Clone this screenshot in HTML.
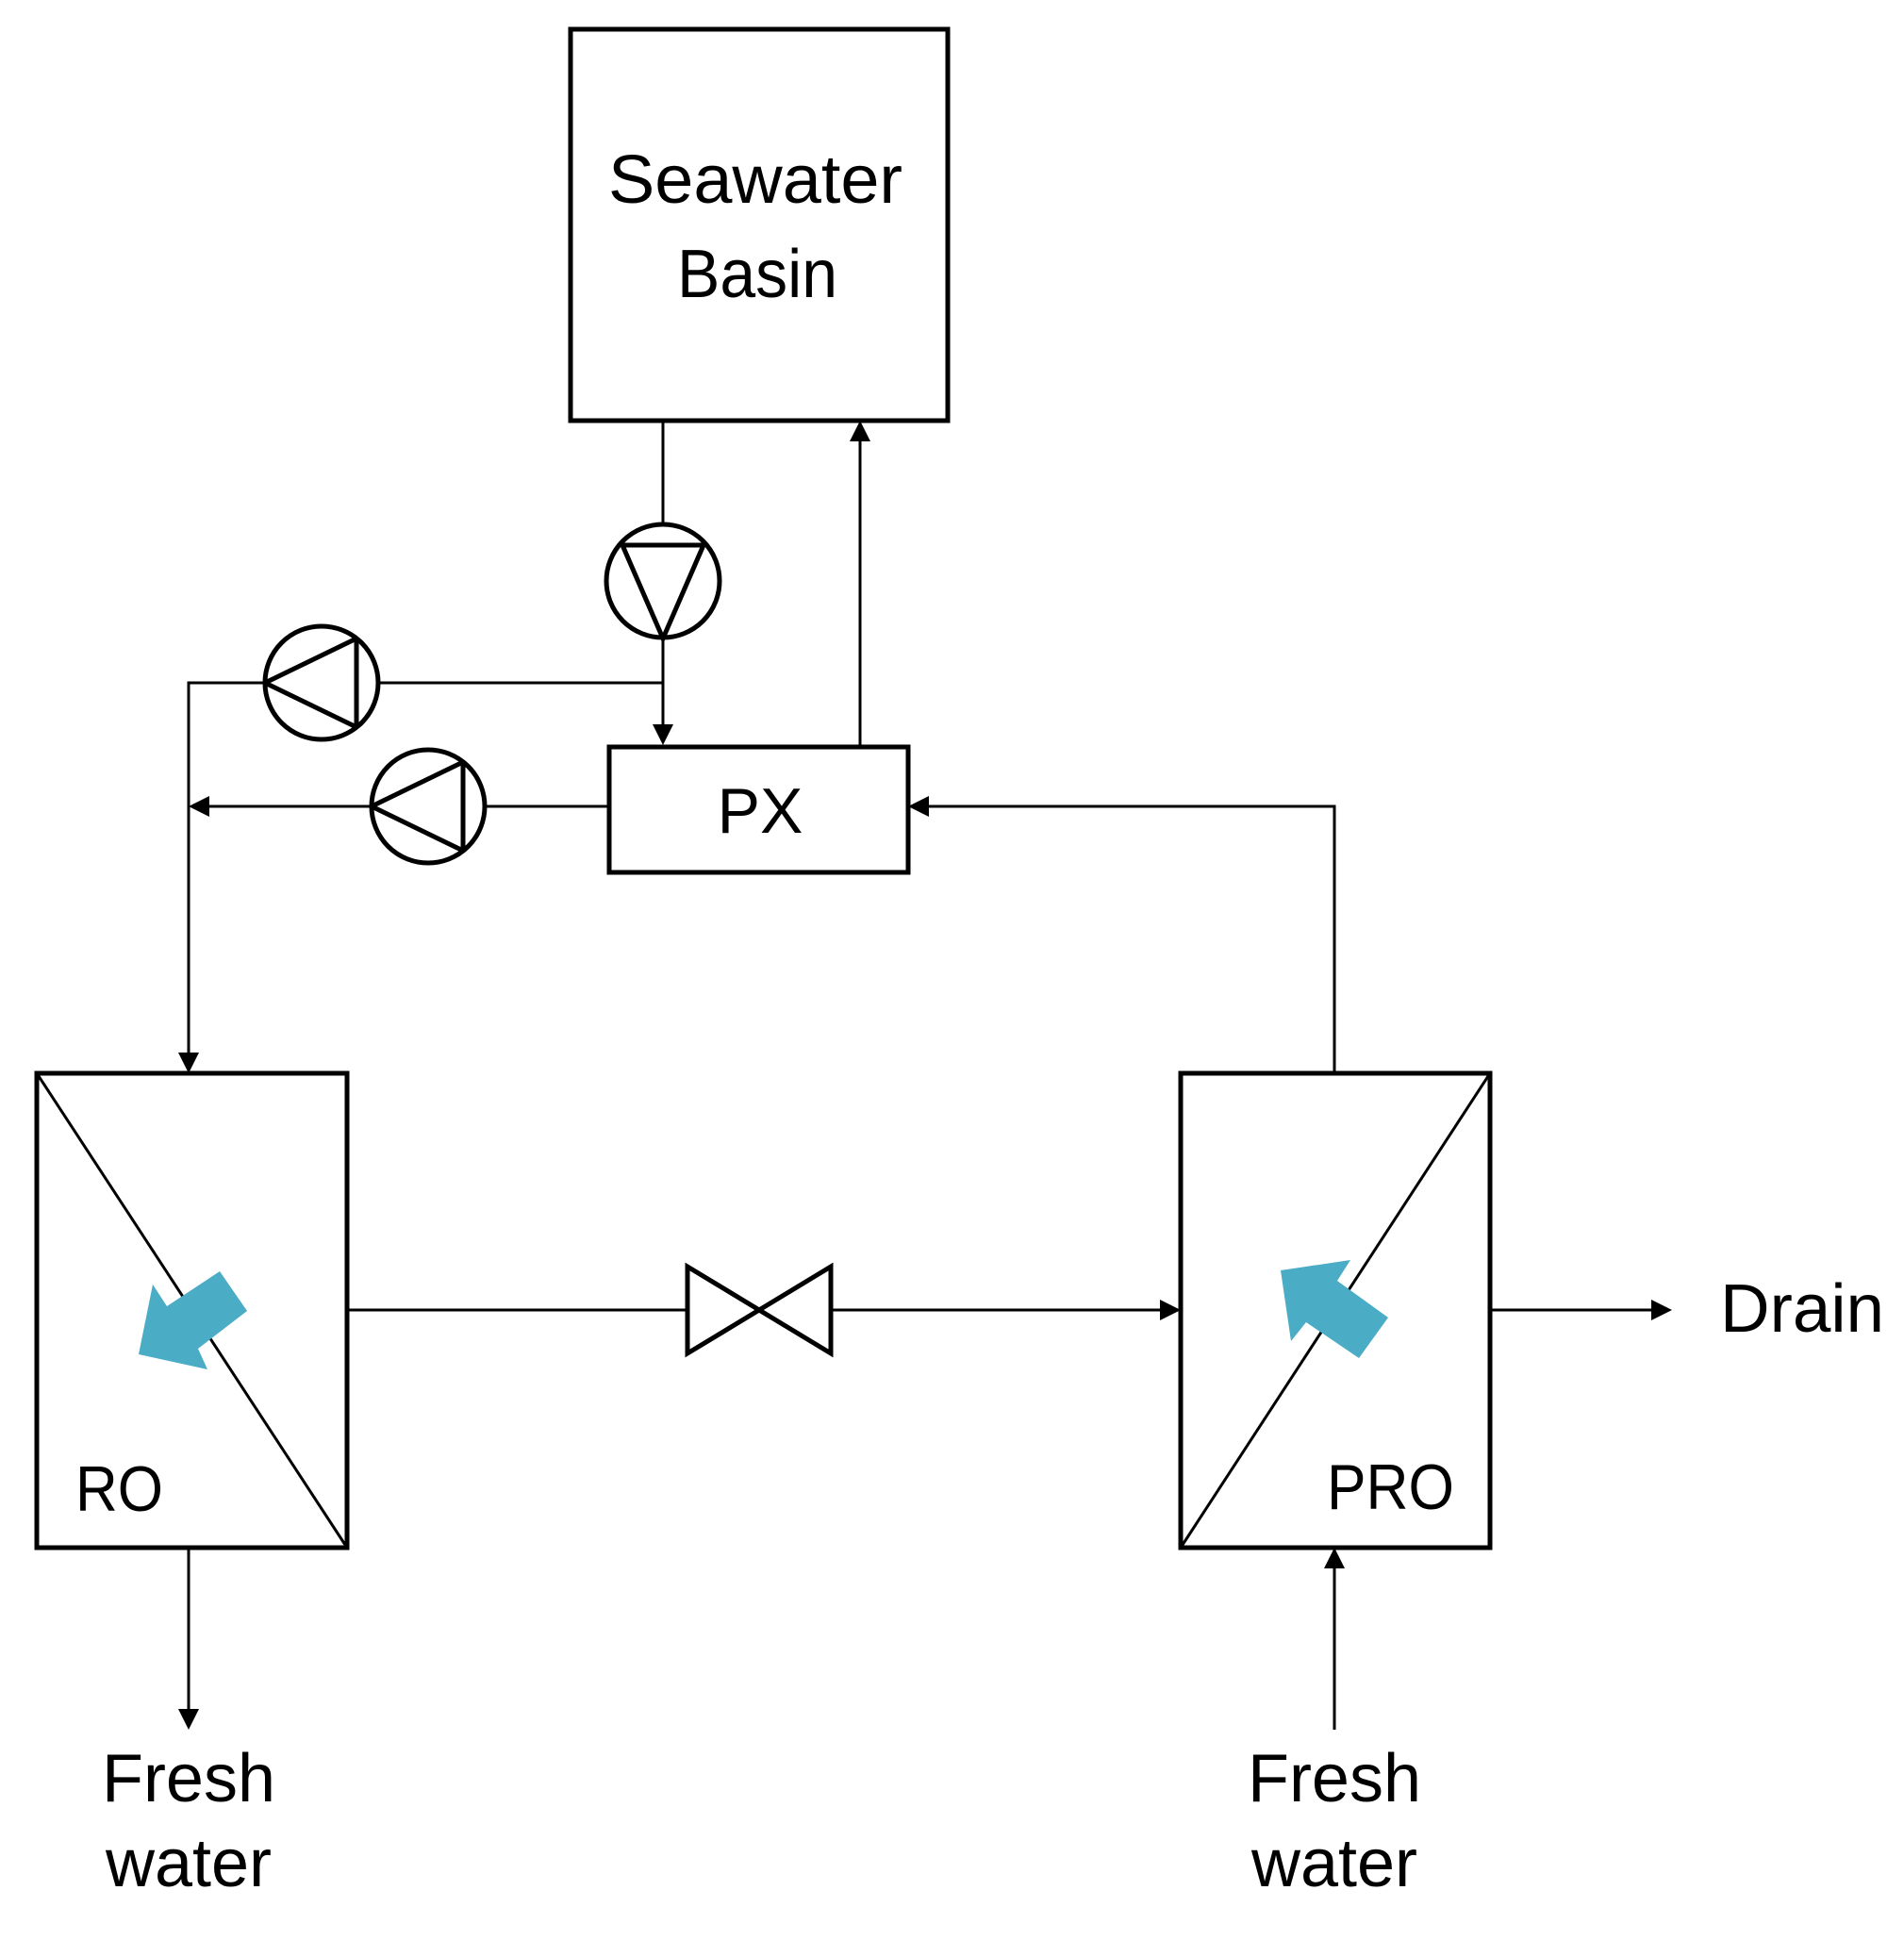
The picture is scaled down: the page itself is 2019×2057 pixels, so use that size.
<!DOCTYPE html>
<html><head><meta charset="utf-8"><style>
html,body{margin:0;padding:0;background:#fff;}
svg{display:block;}
text{font-family:"Liberation Sans",sans-serif;fill:#000;}
</style></head><body>
<svg width="2019" height="2057" viewBox="0 0 2019 2057" xmlns="http://www.w3.org/2000/svg">
<defs>
<marker id="ah" markerWidth="10" markerHeight="10" refX="9" refY="5" orient="auto" markerUnits="userSpaceOnUse" viewBox="0 0 10 10">
</marker>
</defs>
<g fill="none" stroke="#000">
<!-- boxes -->
<rect x="605" y="31" width="400" height="415" stroke-width="5"/>
<rect x="646" y="792" width="317" height="133" stroke-width="5"/>
<rect x="39" y="1138" width="329" height="503" stroke-width="5"/>
<rect x="1252" y="1138" width="328" height="503" stroke-width="5"/>
<line x1="39" y1="1138" x2="368" y2="1641" stroke-width="3"/>
<line x1="1252" y1="1641" x2="1580" y2="1138" stroke-width="3"/>
<g stroke-width="3">
<!-- basin to top pump -->
<line x1="703" y1="446" x2="703" y2="555"/>
<line x1="703" y1="677" x2="703" y2="770"/>
<!-- PX up to basin -->
<line x1="912" y1="790" x2="912" y2="468"/>
<!-- line pump1 to junction -->
<polyline points="401,724 703,724"/>
<polyline points="281,724 200,724 200,1118"/>
<!-- PX to pump2 -->
<line x1="646" y1="855" x2="514" y2="855"/>
<line x1="394" y1="855" x2="220" y2="855"/>
<!-- PRO to PX -->
<polyline points="1415,1138 1415,855 985,855"/>
<!-- middle -->
<line x1="368" y1="1389" x2="729" y2="1389"/>
<line x1="881" y1="1389" x2="1230" y2="1389"/>
<!-- drain -->
<line x1="1580" y1="1389" x2="1752" y2="1389"/>
<!-- RO bottom -->
<line x1="200" y1="1641" x2="200" y2="1814"/>
<!-- PRO bottom -->
<line x1="1415" y1="1834" x2="1415" y2="1663"/>
</g>
<!-- pumps -->
<g stroke-width="5">
<circle cx="703" cy="616" r="60"/>
<line x1="660" y1="578" x2="746" y2="578"/>
<polyline points="660,578 703,677 746,578"/>
<circle cx="341" cy="724" r="60"/>
<line x1="378" y1="677" x2="378" y2="771"/>
<polyline points="378,677 281,724 378,771"/>
<circle cx="454" cy="855" r="60"/>
<line x1="491" y1="808" x2="491" y2="902"/>
<polyline points="491,808 394,855 491,902"/>
<!-- valve -->
<polygon points="729,1343 729,1435 881,1343 881,1435"/>
</g>
</g>
<!-- arrowheads -->
<g fill="#000">
<polygon points="703,790 692,768 714,768"/>
<polygon points="912,446 901,468 923,468"/>
<polygon points="200,1138 189,1116 211,1116"/>
<polygon points="200,855 222,844 222,866"/>
<polygon points="963,855 985,844 985,866"/>
<polygon points="1252,1389 1230,1378 1230,1400"/>
<polygon points="1773,1389 1751,1378 1751,1400"/>
<polygon points="200,1834 189,1812 211,1812"/>
<polygon points="1415,1641 1404,1663 1426,1663"/>
</g>
<!-- blue arrows -->
<polygon fill="#4bacc6" points="147,1436 162,1362 177,1385 233,1348 262,1390 210,1430 220,1452"/>
<polygon fill="#4bacc6" points="1358,1347 1432,1336 1418,1358 1472,1397 1441,1440 1385,1402 1369,1422"/>
<!-- text -->
<text x="801" y="215" font-size="72" text-anchor="middle" textLength="312" lengthAdjust="spacingAndGlyphs">Seawater</text>
<text x="803" y="315" font-size="72" text-anchor="middle" textLength="170" lengthAdjust="spacingAndGlyphs">Basin</text>
<text x="806" y="883" font-size="68" text-anchor="middle">PX</text>
<text x="80" y="1602" font-size="68" textLength="93" lengthAdjust="spacingAndGlyphs">RO</text>
<text x="1407" y="1600" font-size="68" textLength="135" lengthAdjust="spacingAndGlyphs">PRO</text>
<text x="1824" y="1412" font-size="72" textLength="174" lengthAdjust="spacingAndGlyphs">Drain</text>
<text x="200" y="1910" font-size="72" text-anchor="middle">Fresh</text>
<text x="200" y="2000" font-size="72" text-anchor="middle">water</text>
<text x="1415" y="1910" font-size="72" text-anchor="middle">Fresh</text>
<text x="1415" y="2000" font-size="72" text-anchor="middle">water</text>
</svg>
</body></html>
